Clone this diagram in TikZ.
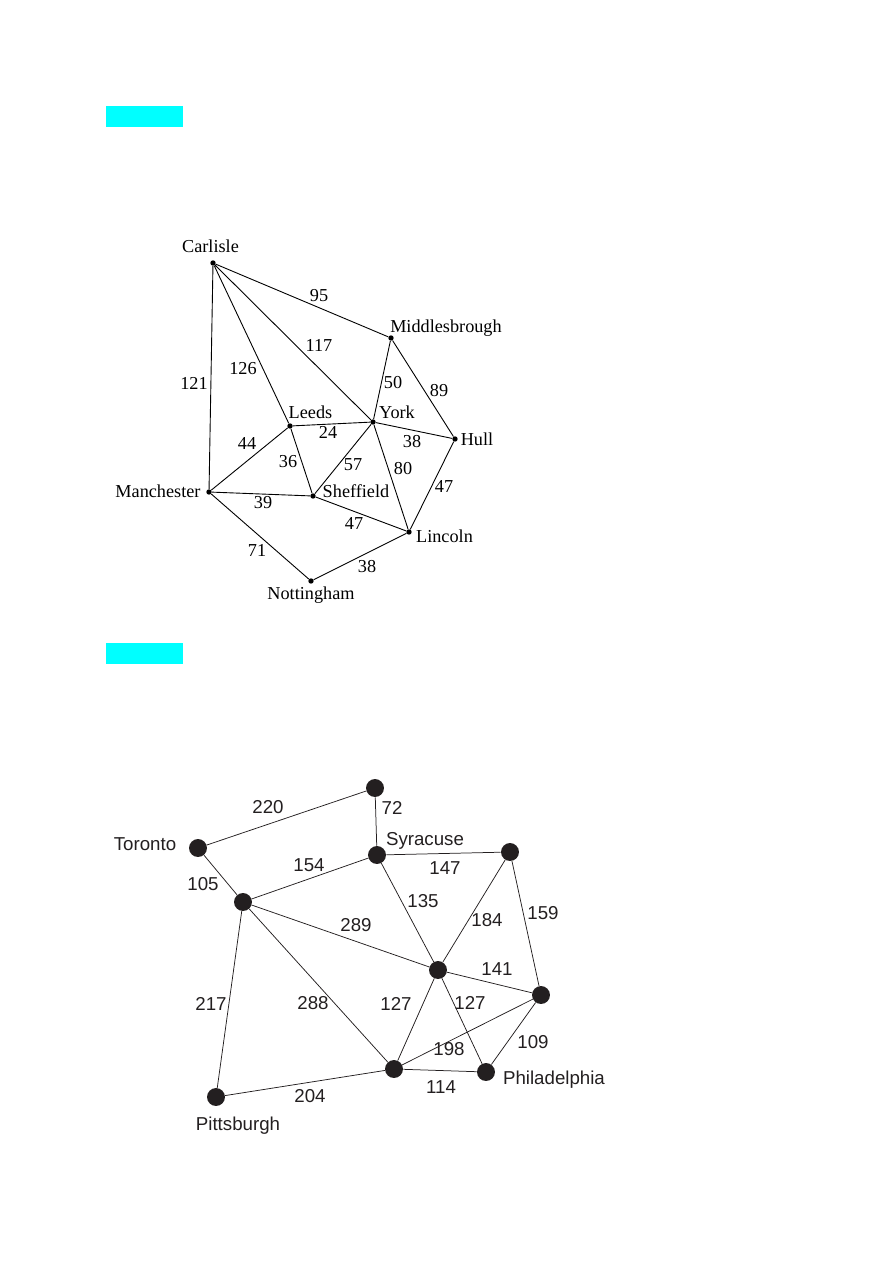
\documentclass[tikz,border=0pt]{standalone}
\usepackage{fontspec}
\setmainfont{Liberation Serif}
\newfontfamily\mapsans{Liberation Sans}
\definecolor{marker}{RGB}{0,255,255}
\definecolor{ink}{RGB}{35,31,32}

\begin{document}
\begin{tikzpicture}[x=0.02352cm,y=-0.02352cm,
  town/.style={circle,fill=black,inner sep=0pt,minimum size=3.6pt},
  city/.style={circle,fill=ink,inner sep=0pt,minimum size=12pt},
  tname/.style={inner sep=0pt,text height=8pt,text depth=0pt,font=\fontsize{12.2}{14}\selectfont},
  cname/.style={inner sep=0pt,text height=8.8pt,text depth=0pt,text=ink,font=\mapsans\fontsize{12.5}{14}\selectfont},
  road/.style={line width=0.6pt},
  route/.style={draw=ink,line width=0.5pt}]
\useasboundingbox (0,0) rectangle (893,1263);
\fill[marker] (106,106) rectangle (183,127);
\fill[marker] (106,643) rectangle (183,664);

\node[town] (car) at (213,263) {};
\node[town] (mid) at (391,338) {};
\node[town] (yor) at (373,422) {};
\node[town] (lee) at (290,426) {};
\node[town] (hul) at (455,439) {};
\node[town] (man) at (209,492) {};
\node[town] (she) at (313,496) {};
\node[town] (lin) at (409,532) {};
\node[town] (not) at (311,581) {};
\draw[road] (car)--(mid) (car)--(man) (car)--(lee) (car)--(yor);
\draw[road] (mid)--(yor) (mid)--(hul) (lee)--(yor) (yor)--(hul);
\draw[road] (man)--(lee) (lee)--(she) (yor)--(she) (yor)--(lin);
\draw[road] (hul)--(lin) (man)--(she) (she)--(lin) (man)--(not) (not)--(lin);
\node[tname] (carT) at (210.5,247) {Carlisle};
\node[tname] (midT) at (446,327) {Middlesbrough};
\node[tname] (leeT) at (310.5,413) {Leeds};
\node[tname] (yorT) at (397,413) {York};
\node[tname] (hulT) at (477,440) {Hull};
\node[tname] (manT) at (158,492) {Manchester};
\node[tname] (sheT) at (356,492) {Sheffield};
\node[tname] (linT) at (444.5,537) {Lincoln};
\node[tname] (notT) at (311,594) {Nottingham};
\node[tname] (w95) at (319,296) {95};
\node[tname] (w117) at (319,346) {117};
\node[tname] (w126) at (243,369) {126};
\node[tname] (w121) at (194,384) {121};
\node[tname] (w50) at (393,383) {50};
\node[tname] (w89) at (439,391) {89};
\node[tname] (w24) at (328,433) {24};
\node[tname] (w38a) at (412,442) {38};
\node[tname] (w44) at (247,444) {44};
\node[tname] (w36) at (288,462) {36};
\node[tname] (w57) at (353,465) {57};
\node[tname] (w80) at (403,469) {80};
\node[tname] (w47a) at (444,487) {47};
\node[tname] (w39) at (263,503) {39};
\node[tname] (w47b) at (354,524) {47};
\node[tname] (w71) at (257,551) {71};
\node[tname] (w38b) at (367,567) {38};

\node[city] (top) at (375,788) {};
\node[city] (tor) at (198,848) {};
\node[city] (syr) at (377,855) {};
\node[city] (eas) at (510,852) {};
\node[city] (wes) at (243,902) {};
\node[city] (ctr) at (438,970) {};
\node[city] (rgt) at (541,995) {};
\node[city] (low) at (394,1069) {};
\node[city] (phl) at (486,1072) {};
\node[city] (pit) at (216,1097) {};
\draw[route] (top)--(tor) (top)--(syr) (tor)--(wes) (wes)--(syr) (syr)--(eas);
\draw[route] (wes)--(ctr) (syr)--(ctr) (ctr)--(eas) (eas)--(rgt) (ctr)--(rgt);
\draw[route] (wes)--(low) (wes)--(pit) (ctr)--(low) (ctr)--(phl);
\draw[route] (low)--(rgt) (rgt)--(phl) (pit)--(low) (low)--(phl);
\node[cname] (torT) at (145,844) {Toronto};
\node[cname] (syrT) at (425,839) {Syracuse};
\node[cname] (phlT) at (554,1078) {Philadelphia};
\node[cname] (pitT) at (238,1124) {Pittsburgh};
\node[cname] (m220) at (268,807) {220};
\node[cname] (m72) at (392,808) {72};
\node[cname] (m154) at (309,865) {154};
\node[cname] (m147) at (445,868) {147};
\node[cname] (m105) at (203,884) {105};
\node[cname] (m135) at (423,901) {135};
\node[cname] (m159) at (543,913) {159};
\node[cname] (m184) at (487,920) {184};
\node[cname] (m289) at (356,925) {289};
\node[cname] (m141) at (497,969) {141};
\node[cname] (m217) at (211,1004) {217};
\node[cname] (m288) at (313,1003) {288};
\node[cname] (m127a) at (396,1004) {127};
\node[cname] (m127b) at (470,1003) {127};
\node[cname] (m109) at (533,1042) {109};
\node[cname] (m198) at (449,1049) {198};
\node[cname] (m114) at (441,1087) {114};
\node[cname] (m204) at (310,1096) {204};
\end{tikzpicture}
\end{document}
